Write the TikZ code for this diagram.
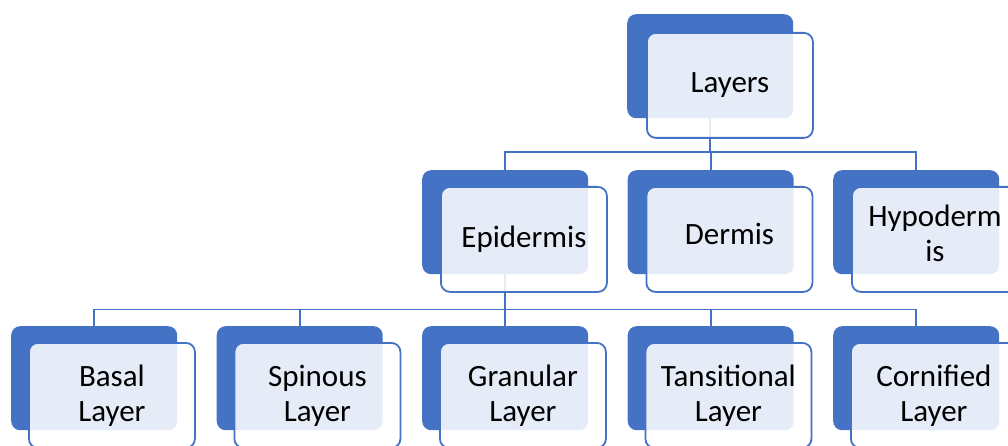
\documentclass[tikz,border=0pt]{standalone}
\usepackage{fontspec}
\setmainfont{Carlito}
\definecolor{accent}{HTML}{4472C4}
\begin{document}
\begin{tikzpicture}[x=1pt,y=-1pt,
  back/.style={fill=accent, rounded corners=9pt, minimum width=166pt,
    minimum height=104pt, anchor=north west, inner sep=0pt},
  front/.style={draw=accent, line width=1.8pt, fill=white, fill opacity=0.87,
    text opacity=1, rounded corners=9pt, minimum width=166pt,
    minimum height=105pt, anchor=north west, inner sep=0pt, align=center,
    font=\fontsize{31}{35}\selectfont},
  link/.style={draw=accent, line width=1.8pt}]
\useasboundingbox (0,0) rectangle (1008,446);
\clip (0,0) rectangle (1008,446);

% filled back plates
\node[back] (L) at (627,14) {};
\node[back] (E) at (422,170) {};
\node[back] (D) at (627.5,170) {};
\node[back] (H) at (833,170) {};
\node[back] (B) at (11,326) {};
\node[back] (S) at (216.5,326) {};
\node[back] (G) at (422,326) {};
\node[back] (T) at (627.5,326) {};
\node[back] (C) at (833,326) {};

% tree connectors
\foreach \c in {E,D,H} \draw[link] (L.south) -- ++(0,34) -| (\c.north);
\foreach \c in {B,S,G,T,C} \draw[link] (E.south) -- ++(0,35) -| (\c.north);

% translucent labelled cards
\node[front] (Lf) at ([shift={(19,18)}]L.north west) {Layers};
\node[front] (Ef) at ([shift={(18,16)}]E.north west) {Epidermis};
\node[front, text depth=12pt] (Df) at ([shift={(18,16)}]D.north west) {Dermis};
\node[front, text depth=12pt] (Hf) at ([shift={(18,16)}]H.north west) {Hypoderm\\is};
\node[front] (Bf) at ([shift={(17,16)}]B.north west) {Basal\\Layer};
\node[front] (Sf) at ([shift={(17,16)}]S.north west) {Spinous\\Layer};
\node[front] (Gf) at ([shift={(17,16)}]G.north west) {Granular\\Layer};
\node[front] (Tf) at ([shift={(17,16)}]T.north west) {Tansitional\\Layer};
\node[front] (Cf) at ([shift={(17,16)}]C.north west) {Cornified\\Layer};
\end{tikzpicture}
\end{document}
